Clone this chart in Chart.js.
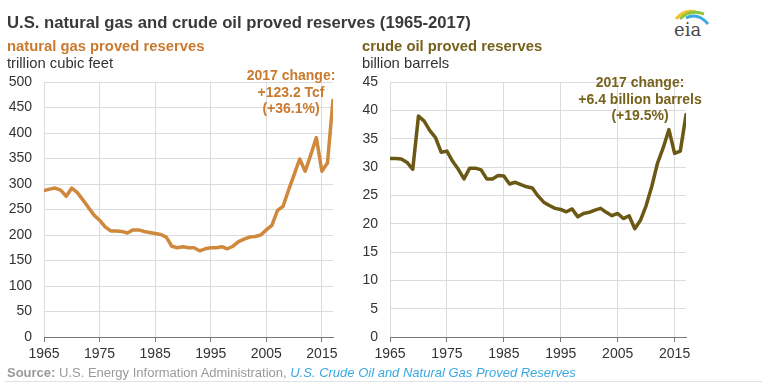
<!doctype html>
<html>
<head>
<meta charset="utf-8">
<title>U.S. natural gas and crude oil proved reserves</title>
<script src="https://cdn.jsdelivr.net/npm/chart.js@4/dist/chart.umd.min.js"></script>
<style>
	body { margin: 0; width: 768px; height: 388px; position: relative; background: #fff; overflow: hidden;
		font-family: "Liberation Sans", Arial, sans-serif; color: #333; }
	canvas { position: absolute; top: 0; z-index: 1; }
	.txt { position: absolute; white-space: nowrap; z-index: 2; }
	.title { left: 7px; top: 13px; font-size: 16.7px; font-weight: bold; color: #3a3a3a; }
	.sub { font-size: 14.8px; font-weight: bold; top: 38px; }
	.unit { font-size: 14.8px; top: 55px; color: #333; }
	.note { font-size: 14px; font-weight: bold; text-align: center; line-height: 16.5px; transform: translateX(-50%); }
	.source { left: 7px; top: 365px; font-size: 13px; color: #9a9a9a; }
	.source a { color: #3ba9e0; font-style: italic; text-decoration: none; }
	.rule { position: absolute; left: 5px; top: 381px; width: 757px; height: 1px; background: #e2e2e2; }
</style>
</head>
<body>
	<canvas id="gas" width="384" height="388" style="left:0;"></canvas>
	<canvas id="oil" width="422" height="388" style="left:346px;"></canvas>

	<div class="txt title">U.S. natural gas and crude oil proved reserves (1965-2017)</div>
	<div class="txt sub" style="left:7px;color:#c97a2e;">natural gas proved reserves</div>
	<div class="txt unit" style="left:7px;">trillion cubic feet</div>
	<div class="txt sub" style="left:362px;color:#76621c;">crude oil proved reserves</div>
	<div class="txt unit" style="left:362px;">billion barrels</div>
	<div class="txt note" style="left:291px;top:67px;color:#c97a2e;">2017 change:<br>+123.2 Tcf<br>(+36.1%)</div>
	<div class="txt note" style="left:640px;top:74px;color:#76621c;">2017 change:<br>+6.4 billion barrels<br>(+19.5%)</div>

	<svg style="position:absolute;left:660px;top:4px;" width="60" height="36" viewBox="0 0 60 36">
		<path d="M16 15 Q24 5 36 8" stroke="#f2c230" stroke-width="3" fill="none"/>
		<path d="M20 15 Q30 5 44 10" stroke="#8cc63f" stroke-width="3" fill="none"/>
		<path d="M26 14 Q38 8 48 20" stroke="#3ba9e0" stroke-width="3" fill="none"/>
		<text x="14" y="32" font-family="DejaVu Serif, serif" font-size="18" fill="#4a4a4a">eia</text>
	</svg>

	<div class="txt source"><b>Source:</b> U.S. Energy Information Administration, <a>U.S. Crude Oil and Natural Gas Proved Reserves</a></div>
	<div class="rule"></div>

	<script>
		var years = [1965, 1966, 1967, 1968, 1969, 1970, 1971, 1972, 1973, 1974,
			1975, 1976, 1977, 1978, 1979, 1980, 1981, 1982, 1983, 1984,
			1985, 1986, 1987, 1988, 1989, 1990, 1991, 1992, 1993, 1994,
			1995, 1996, 1997, 1998, 1999, 2000, 2001, 2002, 2003, 2004,
			2005, 2006, 2007, 2008, 2009, 2010, 2011, 2012, 2013, 2014,
			2015, 2016, 2017];

		// trillion cubic feet
		var gasReserves = [287, 290, 292, 288, 276, 292, 283, 269, 254, 239,
			229, 216, 208, 208, 207, 204, 210, 210, 207, 205,
			203, 201, 196, 178, 175, 177, 175, 175, 169, 173,
			175, 175, 177, 173, 178, 187, 192, 196, 197, 200,
			210, 219, 248, 256, 288, 318, 349, 325, 357, 391,
			325, 341.1, 464.3];

		// billion barrels
		var oilReserves = [31.5, 31.5, 31.4, 30.8, 29.6, 39.0, 38.1, 36.4, 35.2, 32.6,
			32.8, 31.0, 29.6, 27.9, 29.8, 29.8, 29.5, 27.9, 27.9, 28.5,
			28.4, 27.0, 27.3, 26.9, 26.5, 26.3, 24.9, 23.8, 23.2, 22.7,
			22.5, 22.1, 22.6, 21.2, 21.8, 22.0, 22.4, 22.7, 22.0, 21.4,
			21.8, 20.9, 21.4, 19.1, 20.6, 23.2, 26.6, 30.7, 33.4, 36.6,
			32.4, 32.8, 39.2];

		var xTicks = [1965, 1975, 1985, 1995, 2005, 2015];
		var gasTicks = [0, 50, 100, 150, 200, 250, 300, 350, 400, 450, 500];
		var oilTicks = [0, 5, 10, 15, 20, 25, 30, 35, 40, 45];

		Chart.defaults.font.family = '"Liberation Sans", Arial, sans-serif';
		Chart.defaults.color = '#333';

		function makeChart(id, values, yTicks, color, padding) {
			var ctx = document.getElementById(id).getContext('2d');
			return new Chart(ctx, {
				type: 'line',
				data: {
					datasets: [{
						data: years.map(function(y, i) { return {x: y, y: values[i]}; }),
						borderColor: color,
						borderWidth: 3.5,
						borderJoinStyle: 'round',
						borderCapStyle: 'round',
						pointRadius: 0,
						tension: 0,
						fill: false
					}]
				},
				options: {
					responsive: false,
					animation: false,
					devicePixelRatio: 1,
					layout: { padding: padding },
					plugins: { legend: { display: false }, tooltip: { enabled: false } },
					scales: {
						x: {
							type: 'linear',
							min: 1965,
							max: 2017,
							afterBuildTicks: function(scale) {
								scale.ticks = xTicks.map(function(v) { return {value: v}; });
							},
							afterFit: function(scale) { scale.height = 33; },
							grid: { color: '#dcdcdc', tickColor: '#777', tickLength: 5, lineWidth: 1 },
							border: { color: '#777', width: 1 },
							ticks: { font: { size: 14 }, padding: 4, maxRotation: 0, autoSkip: false,
								callback: function(v) { return String(v); } }
						},
						y: {
							min: yTicks[0],
							max: yTicks[yTicks.length - 1],
							afterBuildTicks: function(scale) {
								scale.ticks = yTicks.map(function(v) { return {value: v}; });
							},
							afterFit: function(scale) { scale.width = 44; },
							grid: { color: '#dcdcdc', drawTicks: false, lineWidth: 1 },
							border: { display: false },
							ticks: { font: { size: 14 }, padding: 12 }
						}
					}
				}
			});
		}

		window.onload = function() {
			makeChart('gas', gasReserves, gasTicks, '#d0883c', {left: 0, right: 51, top: 82, bottom: 18});
			makeChart('oil', oilReserves, oilTicks, '#6b5814', {left: 0, right: 82, top: 82, bottom: 18});
		};
	</script>
</body>
</html>
